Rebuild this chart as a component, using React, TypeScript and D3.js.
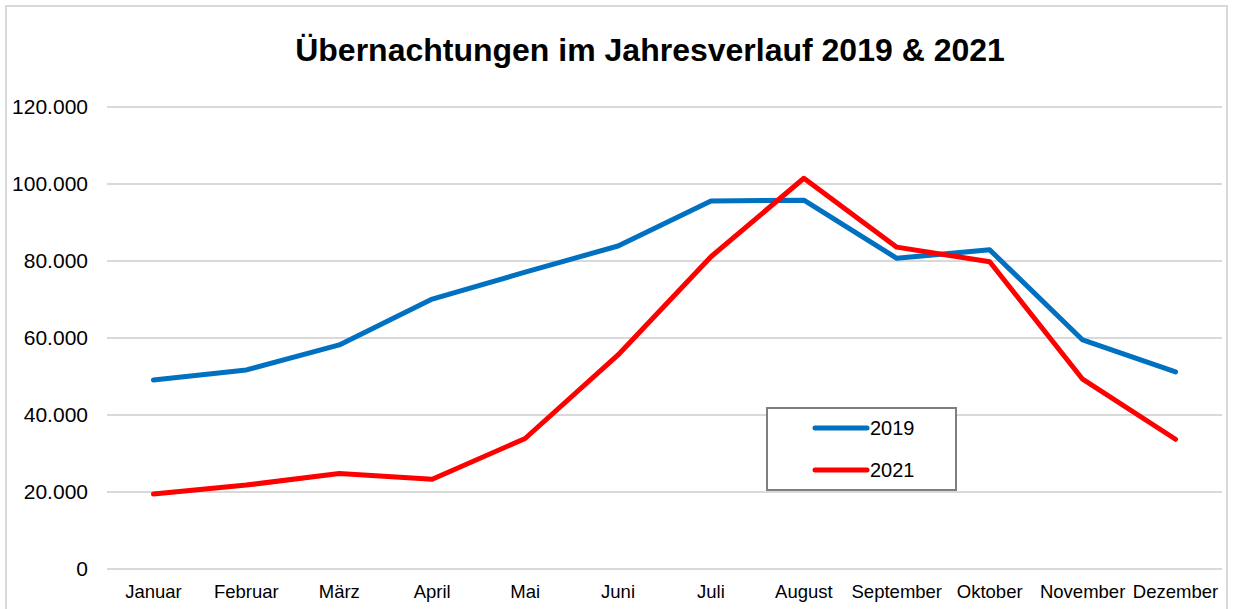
import * as d3 from "d3";
import { useEffect, useRef } from "react";

const months = ["Januar", "Februar", "März", "April", "Mai", "Juni", "Juli", "August", "September", "Oktober", "November", "Dezember"];
const values2019 = [49100, 51700, 58200, 70100, 77100, 83900, 95600, 95800, 80700, 82900, 59500, 51200];
const values2021 = [19500, 21800, 24800, 23300, 33900, 55600, 81100, 101500, 83600, 79800, 49300, 33700];
const yTicks = [0, 20000, 40000, 60000, 80000, 100000, 120000];
const seriesNames = ["2019", "2021"];

const WIDTH = 1233;
const HEIGHT = 609;

const App = () => {
  const ref = useRef<SVGSVGElement>(null);

  useEffect(() => {
    const margin = { top: 107, right: 11, bottom: 40, left: 107 };
    const svg = d3.select(ref.current);
    svg.selectAll("*").remove();

    // outer chart frame
    svg.append("rect")
      .attr("x", 6).attr("y", 6)
      .attr("width", WIDTH - 12).attr("height", HEIGHT + 20)
      .attr("fill", "#fff")
      .attr("stroke", "#d9d9d9")
      .attr("stroke-width", 2);

    svg.append("text")
      .attr("x", 650).attr("y", 61)
      .attr("text-anchor", "middle")
      .style("font-family", "Liberation Sans, Arial, sans-serif")
      .style("font-weight", "bold")
      .style("font-size", "32px")
      .text("Übernachtungen im Jahresverlauf 2019 & 2021");

    const x = d3.scaleBand().domain(months).range([margin.left, WIDTH - margin.right]);
    const y = d3.scaleLinear().domain([0, 120000]).range([569, margin.top]);
    const fmt = (v: number) => d3.format(",")(v).replace(/,/g, ".");

    // gridlines
    svg.append("g")
      .selectAll("line")
      .data(yTicks)
      .join("line")
      .attr("x1", margin.left).attr("x2", WIDTH - margin.right)
      .attr("y1", (d) => y(d)).attr("y2", (d) => y(d))
      .attr("stroke", "#d9d9d9")
      .attr("stroke-width", 2);

    // y labels
    svg.append("g")
      .selectAll("text")
      .data(yTicks)
      .join("text")
      .attr("x", 88)
      .attr("y", (d) => y(d))
      .attr("dy", "0.35em")
      .attr("text-anchor", "end")
      .style("font-family", "Liberation Sans, Arial, sans-serif")
      .style("font-size", "21px")
      .text((d) => fmt(d));

    // x labels
    svg.append("g")
      .selectAll("text")
      .data(months)
      .join("text")
      .attr("x", (d) => (x(d) as number) + x.bandwidth() / 2)
      .attr("y", 598)
      .attr("text-anchor", "middle")
      .style("font-family", "Liberation Sans, Arial, sans-serif")
      .style("font-size", "18.5px")
      .text((d) => d);

    const line = d3.line<number>()
      .x((_, i) => (x(months[i]) as number) + x.bandwidth() / 2)
      .y((d) => y(d));

    const series = [
      { name: seriesNames[0], values: values2019, color: "#0070c0" },
      { name: seriesNames[1], values: values2021, color: "#ff0000" },
    ];

    series.forEach((s) => {
      svg.append("path")
        .datum(s.values)
        .attr("d", line)
        .attr("fill", "none")
        .attr("stroke", s.color)
        .attr("stroke-width", 5)
        .attr("stroke-linejoin", "round")
        .attr("stroke-linecap", "round");
    });

    // legend
    const legend = svg.append("g");
    legend.append("rect")
      .attr("x", 767).attr("y", 408)
      .attr("width", 189).attr("height", 82)
      .attr("fill", "#fff")
      .attr("stroke", "#7f7f7f")
      .attr("stroke-width", 2);
    series.forEach((s, i) => {
      const ly = 428 + i * 42;
      legend.append("line")
        .attr("x1", 815).attr("x2", 867)
        .attr("y1", ly).attr("y2", ly)
        .attr("stroke", s.color)
        .attr("stroke-width", 5)
        .attr("stroke-linecap", "round");
      legend.append("text")
        .attr("x", 870).attr("y", ly)
        .attr("dy", "0.35em")
        .style("font-family", "Liberation Sans, Arial, sans-serif")
        .style("font-size", "20px")
        .text(s.name);
    });
  }, []);

  return (
    <svg
      ref={ref}
      width={WIDTH}
      height={HEIGHT}
      style={{ position: "absolute", left: 0, top: 0, background: "#fff" }}
    />
  );
};

export default App;
